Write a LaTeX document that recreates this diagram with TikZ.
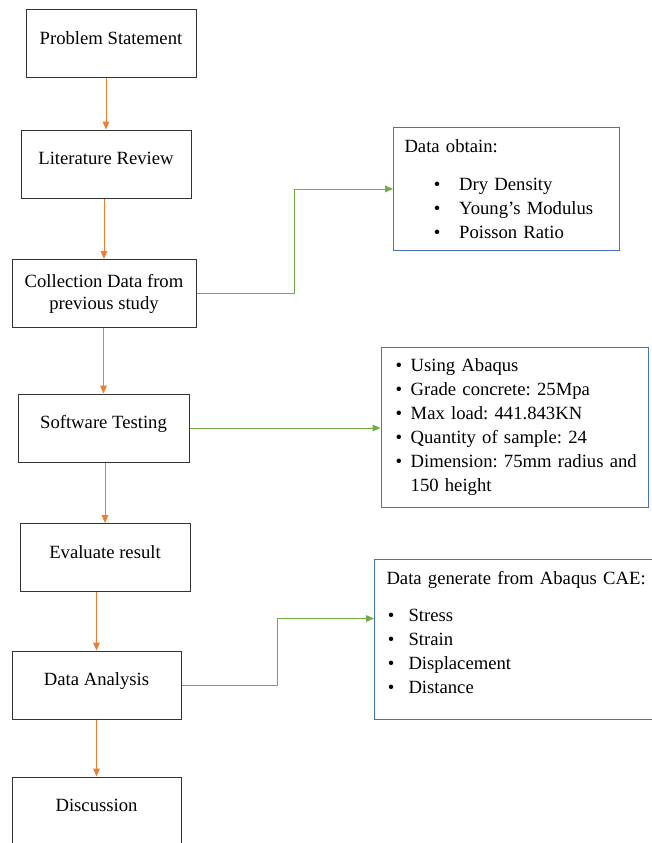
\documentclass[tikz,border=0pt]{standalone}
\usepackage{fontspec}
\setmainfont{Liberation Serif}
\usepackage{tikz}
\usetikzlibrary{arrows.meta, positioning, calc}

\definecolor{floworange}{HTML}{ED7D31}
\definecolor{linkgreen}{HTML}{70AD47}
\definecolor{infoblue}{HTML}{4472C4}

\newcommand{\bulitem}[2]{\hspace*{#1}\makebox[#2][l]{\textbullet}}
\frenchspacing

\begin{document}
\begin{tikzpicture}[
  x=0.75pt, y=-0.75pt,
  font=\fontsize{14}{18}\selectfont,
  stepbox/.style={draw=black!80, line width=0.75pt,
                  minimum width=127.5pt, minimum height=51pt,
                  inner sep=2pt},
  steptext/.style={stepbox, text height=9pt, text depth=8pt},
  infobox/.style={draw=infoblue, line width=0.75pt, anchor=north west,
                  align=left, inner ysep=4pt},
  flowarrow/.style={draw=floworange, line width=0.75pt,
                    -{Triangle[length=6pt, width=5pt]}},
  linkarrow/.style={draw=linkgreen, line width=0.75pt,
                    -{Triangle[length=6pt, width=5pt]}}
]

\useasboundingbox (0,0) rectangle (651,843);

\node[steptext] (prob) at (111,43.5) {Problem Statement};
\node[steptext] (lit)  at (106,164)  {Literature Review};
\node[stepbox, minimum width=138pt, align=center,
      font=\fontsize{14}{16.5}\selectfont] (coll) at (104,293.5)
  {Collection Data from\\previous study};
\node[steptext, minimum width=128.25pt] (soft) at (103.5,428) {Software Testing};
\node[steptext] (eval) at (105,557.5) {Evaluate result};
\node[steptext, minimum width=126.75pt] (ana)  at (96.5,685) {Data Analysis};
\node[steptext, minimum width=126.75pt] (disc) at (96.5,811) {Discussion};

\node[infobox, minimum width=169.5pt, minimum height=92.25pt,
      inner xsep=8.25pt, text width=153pt] (obtain) at (393,127) {
  Data obtain:\\[10pt]
  \bulitem{22pt}{19pt}Dry Density\\
  \bulitem{22pt}{19pt}Young’s Modulus\\
  \bulitem{22pt}{19pt}Poisson Ratio
};

\node[infobox, minimum width=200.6pt, minimum height=120pt,
      inner xsep=6pt, text width=188.6pt] (params) at (380.5,347) {
  \bulitem{5pt}{11.25pt}Using Abaqus\\
  \bulitem{5pt}{11.25pt}Grade concrete: 25Mpa\\
  \bulitem{5pt}{11.25pt}Max load: 441.843KN\\
  \bulitem{5pt}{11.25pt}Quantity of sample: 24\\
  \bulitem{5pt}{11.25pt}Dimension: 75mm radius and\\
  \hspace*{16.25pt}150 height
};

\node[infobox, minimum width=210pt, minimum height=120pt,
      inner xsep=9pt, text width=192pt] (gen) at (374,559) {
  \mbox{Data generate from Abaqus CAE:}\\[10pt]
  \bulitem{1pt}{15.5pt}Stress\\
  \bulitem{1pt}{15.5pt}Strain\\
  \bulitem{1pt}{15.5pt}Displacement\\
  \bulitem{1pt}{15.5pt}Distance\\[-7.5pt]
  \mbox{}
};

\coordinate (genin) at ([yshift=15.75pt]gen.west);

\draw[flowarrow] (prob.south -| lit.north) -- (lit.north);
\draw[flowarrow] (lit.south -| coll.north) -- (coll.north);
\draw[flowarrow] (coll.south -| soft.north) -- (soft.north);
\draw[flowarrow] (soft.south -| eval.north) -- (eval.north);
\draw[flowarrow] (eval.south -| ana.north) -- (ana.north);
\draw[flowarrow] (ana.south) -- (disc.north);

\draw[linkarrow] (coll.east) -| ($(coll.east)!0.5!(obtain.west)$) |- (obtain.west);
\draw[linkarrow] (soft.east) -- (soft.east -| params.west);
\draw[linkarrow] (ana.east) -| ($(ana.east)!0.5!(genin)$) |- (genin);

\end{tikzpicture}
\end{document}
